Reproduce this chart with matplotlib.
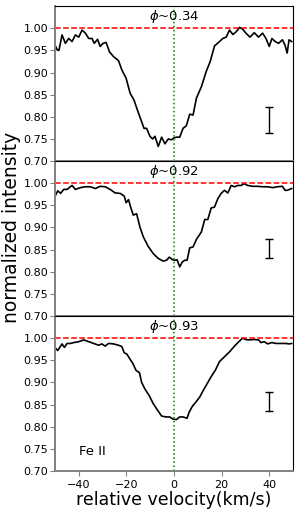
import numpy as np
import matplotlib
matplotlib.use("Agg")
import matplotlib.pyplot as plt

# Fe II mean line profiles at three phases
v1 = [-49.7, -49.0, -48.3, -47.0, -45.6, -44.2, -42.8, -41.4, -40.0, -38.6,
      -37.2, -35.8, -34.4, -33.5, -32.1, -31.0, -29.8, -28.5, -27.1, -25.4,
      -23.3, -21.9, -20.1, -18.4, -16.8, -15.4, -14.0, -12.6, -11.5, -10.1,
      -9.0, -8.0, -6.6, -5.2, -3.8, -2.4, -1.1, -0.1, 1.0, 2.4,
      3.8, 5.2, 6.6, 8.0, 9.4, 11.5, 13.5, 15.2, 17.0, 19.1,
      20.5, 21.9, 23.3, 24.7, 26.1, 27.5, 28.8, 30.2, 31.9, 33.7,
      35.5, 37.2, 38.6, 40.0, 41.1, 42.5, 43.9, 45.5, 46.6, 47.5,
      48.3, 49.4]
f1 = [0.959, 0.951, 0.950, 0.985, 0.966, 0.977, 0.970, 0.985, 0.980, 0.996,
      0.989, 0.977, 0.977, 0.966, 0.975, 0.959, 0.966, 0.968, 0.947, 0.936,
      0.927, 0.906, 0.887, 0.853, 0.838, 0.816, 0.795, 0.774, 0.774, 0.756,
      0.750, 0.756, 0.733, 0.754, 0.739, 0.750, 0.748, 0.752, 0.754, 0.754,
      0.774, 0.780, 0.806, 0.804, 0.842, 0.868, 0.902, 0.925, 0.960, 0.970,
      0.977, 0.980, 0.996, 0.986, 0.992, 1.002, 0.998, 0.989, 0.980, 0.990,
      0.980, 0.989, 0.977, 0.959, 0.977, 0.970, 0.966, 0.974, 0.962, 0.944,
      0.974, 0.970]

v2 = [-49.7, -48.8, -47.6, -46.3, -44.9, -43.5, -42.8, -41.4, -39.3, -37.2,
      -35.1, -33.0, -31.0, -28.9, -26.8, -24.7, -22.6, -20.9, -20.1, -19.1,
      -18.2, -17.1, -15.7, -14.3, -12.9, -10.8, -8.7, -6.6, -4.5, -3.1,
      -2.0, -0.6, 0.3, 1.3, 2.4, 3.5, 4.5, 5.5, 6.6, 8.0,
      9.4, 11.5, 12.9, 14.2, 15.6, 17.0, 18.4, 19.8, 21.2, 22.6,
      24.0, 25.4, 26.8, 28.2, 29.5, 30.9, 33.0, 35.1, 37.2, 39.3,
      41.4, 43.4, 45.5, 46.6, 47.6, 49.4]
f2 = [0.973, 0.983, 0.977, 0.986, 0.986, 0.992, 0.995, 0.986, 0.990, 0.992,
      0.992, 0.988, 0.993, 0.992, 0.986, 0.978, 0.977, 0.971, 0.956, 0.963,
      0.946, 0.928, 0.931, 0.901, 0.879, 0.857, 0.841, 0.830, 0.824, 0.826,
      0.833, 0.827, 0.826, 0.827, 0.811, 0.822, 0.826, 0.826, 0.854, 0.856,
      0.873, 0.890, 0.918, 0.918, 0.944, 0.946, 0.965, 0.977, 0.984, 0.978,
      0.995, 0.992, 0.995, 0.995, 0.999, 0.995, 0.993, 0.993, 0.992, 0.992,
      0.990, 0.992, 0.993, 0.984, 0.984, 0.988]

v3 = [-49.7, -48.8, -47.6, -47.0, -46.0, -44.9, -43.5, -42.1, -40.0, -37.9,
      -35.8, -33.7, -31.7, -30.3, -28.9, -27.5, -25.4, -23.3, -21.9, -20.9,
      -19.8, -18.4, -17.3, -15.9, -14.5, -13.6, -12.2, -10.4, -8.7, -7.0,
      -5.2, -3.4, -1.8, -0.4, 1.0, 2.4, 3.8, 5.5, 6.3, 7.7,
      9.4, 10.8, 12.4, 13.8, 15.6, 17.4, 19.1, 21.2, 23.3, 25.4,
      27.2, 28.8, 30.0, 31.6, 33.7, 35.5, 36.5, 37.9, 39.3, 41.1,
      42.8, 44.8, 46.9, 48.3, 49.4]
f3 = [0.977, 0.972, 0.982, 0.987, 0.979, 0.988, 0.988, 0.990, 0.992, 0.996,
      0.992, 0.988, 0.984, 0.987, 0.982, 0.988, 0.987, 0.984, 0.981, 0.967,
      0.964, 0.952, 0.943, 0.927, 0.922, 0.900, 0.885, 0.870, 0.852, 0.838,
      0.824, 0.822, 0.822, 0.817, 0.816, 0.822, 0.822, 0.819, 0.832, 0.846,
      0.857, 0.867, 0.883, 0.896, 0.913, 0.928, 0.947, 0.958, 0.969, 0.982,
      0.992, 1.000, 0.997, 0.996, 0.997, 0.996, 0.990, 0.992, 0.987, 0.990,
      0.988, 0.988, 0.988, 0.987, 0.988]

velocities = [v1, v2, v3]
fluxes = [f1, f2, f3]
phases = ["0.34", "0.92", "0.93"]
# typical error bar: centre and half length
err_centre = [0.7925, 0.853, 0.8575]
err_half = [0.0295, 0.022, 0.0215]

fig, axes = plt.subplots(3, 1, figsize=(3.0, 5.13), dpi=100, sharex=True)
fig.subplots_adjust(left=0.183, right=0.977, bottom=0.082, top=0.988, hspace=0)

for i, ax in enumerate(axes):
    ax.plot(velocities[i], fluxes[i], color='black', lw=1.2)
    ax.axhline(1.0, color='red', ls='--', lw=1.1)
    ax.axvline(0, color='green', ls=':', lw=1.1)
    ax.errorbar(40, err_centre[i], yerr=err_half[i], color='black',
                capsize=3, lw=1, capthick=1)
    ax.text(0, 1.027, r'$\phi$~' + phases[i], ha='center', va='center',
            fontsize=9.5)
    ax.set_xlim(-50, 50)
    ax.set_ylim(0.70, 1.05)
    ax.set_yticks(np.arange(0.70, 1.001, 0.05))
    ax.set_yticklabels([f"{t:.2f}" for t in np.arange(0.70, 1.001, 0.05)])
    ax.tick_params(labelsize=8, length=3.5, pad=1.5, color='0.5')
    for side in ['left', 'bottom']:
        ax.spines[side].set_color('0.5')
        ax.spines[side].set_linewidth(1.4)
    if i < 2:
        ax.tick_params(bottom=False, labelbottom=False)

axes[2].set_xticks([-40, -20, 0, 20, 40])
axes[2].tick_params(axis='x', pad=3)
axes[2].text(-40, 0.744, 'Fe II', ha='left', va='center', fontsize=9.5)
axes[2].set_xlabel('relative velocity(km/s)', fontsize=12.5, labelpad=1)
fig.text(0.008, 0.556, 'normalized intensity', rotation=90, ha='left',
         va='center', fontsize=13.5)

fig.savefig('out.png', dpi=100)
